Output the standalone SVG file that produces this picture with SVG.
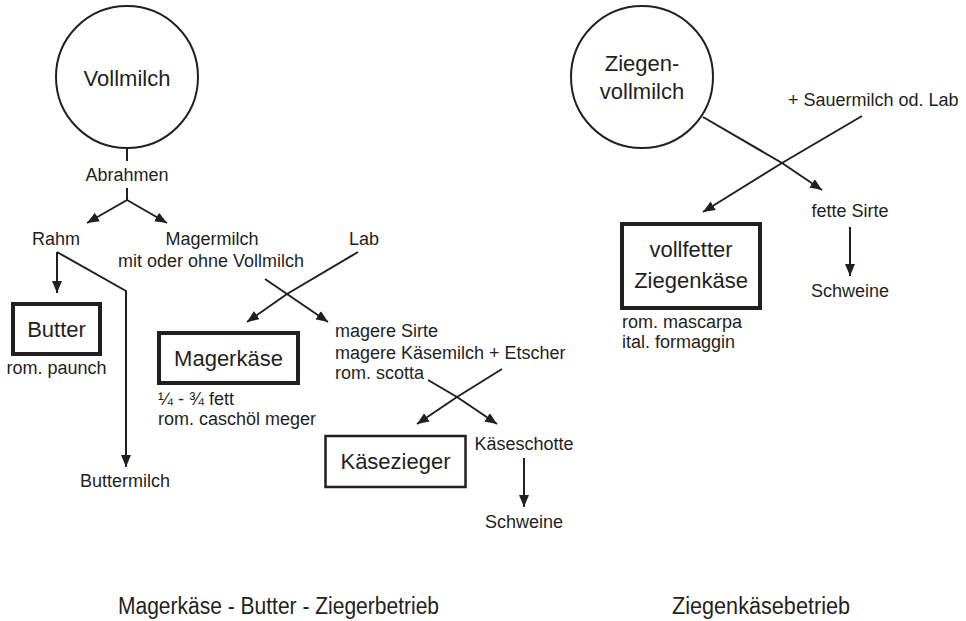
<svg xmlns="http://www.w3.org/2000/svg" width="966" height="621" viewBox="0 0 966 621">
  <style>
    text { font-family: "Liberation Sans", Arial, sans-serif; fill: #231f20; }
    .s { font-size: 18px; }
    .m { font-size: 22px; }
    .t { font-size: 23px; }
    .c { text-anchor: middle; }
    .ln { fill: none; stroke: #231f20; stroke-width: 2; }
    .thick { fill: #fff; stroke: #231f20; stroke-width: 4; }
    .thin { fill: #fff; stroke: #231f20; stroke-width: 2.5; }
    .circ { fill: #fff; stroke: #231f20; stroke-width: 2; }
  </style>
  <defs>
    <marker id="ah" markerUnits="userSpaceOnUse" markerWidth="14" markerHeight="12" refX="12" refY="5" orient="auto">
      <path d="M0,0 L12,5 L0,10 Z" fill="#231f20"/>
    </marker>
  </defs>
  <rect width="966" height="621" fill="#fff"/>

  <g id="connectors">
    <line class="ln" x1="127" y1="148" x2="127" y2="161"/>
    <line class="ln" x1="127" y1="188" x2="127" y2="200"/>
    <line class="ln" x1="127" y1="200" x2="87" y2="223" marker-end="url(#ah)"/>
    <line class="ln" x1="127" y1="200" x2="167" y2="223" marker-end="url(#ah)"/>
    <line class="ln" x1="57" y1="252" x2="57" y2="293" marker-end="url(#ah)"/>
    <polyline class="ln" points="57,252 126,291 126,467" marker-end="url(#ah)"/>
    <line class="ln" x1="358" y1="252" x2="287" y2="294"/>
    <line class="ln" x1="265" y1="279" x2="287" y2="294"/>
    <line class="ln" x1="287" y1="294" x2="247" y2="322" marker-end="url(#ah)"/>
    <line class="ln" x1="287" y1="294" x2="328" y2="322" marker-end="url(#ah)"/>
    <line class="ln" x1="428" y1="380" x2="457" y2="397"/>
    <line class="ln" x1="502" y1="369" x2="457" y2="397"/>
    <line class="ln" x1="457" y1="397" x2="417" y2="424" marker-end="url(#ah)"/>
    <line class="ln" x1="457" y1="397" x2="497" y2="424" marker-end="url(#ah)"/>
    <line class="ln" x1="524" y1="458" x2="524" y2="507" marker-end="url(#ah)"/>
    <polyline class="ln" points="703,117 782,163 822,190" marker-end="url(#ah)"/>
    <polyline class="ln" points="862,116 782,163 703,212" marker-end="url(#ah)"/>
    <line class="ln" x1="850" y1="227" x2="850" y2="276" marker-end="url(#ah)"/>
  </g>

  <g id="vollmilch">
    <circle class="circ" cx="127" cy="77" r="71"/>
    <text class="m c" x="127" y="86">Vollmilch</text>
  </g>
  <g id="abrahmen"><text class="s c" x="127" y="181">Abrahmen</text></g>
  <g id="rahm"><text class="s c" x="56" y="245">Rahm</text></g>
  <g id="magermilch">
    <text class="s c" x="212" y="245">Magermilch</text>
    <text class="s c" x="211" y="267">mit oder ohne Vollmilch</text>
  </g>
  <g id="lab"><text class="s c" x="364" y="245">Lab</text></g>
  <g id="butter">
    <rect class="thick" x="13" y="304" width="87" height="50"/>
    <text class="m c" x="56.5" y="337">Butter</text>
    <text class="s c" x="56.5" y="374">rom. paunch</text>
  </g>
  <g id="buttermilch"><text class="s c" x="125" y="487">Buttermilch</text></g>
  <g id="magerkaese">
    <rect class="thick" x="159" y="333" width="139" height="50"/>
    <text class="m c" x="228.5" y="366">Magerkäse</text>
    <text class="s" x="158" y="405">¼ - ¾ fett</text>
    <text class="s" x="158" y="425">rom. caschöl meger</text>
  </g>
  <g id="magere-sirte">
    <text class="s" x="335" y="337">magere Sirte</text>
    <text class="s" x="335" y="359">magere Käsemilch + Etscher</text>
    <text class="s" x="335" y="379">rom. scotta</text>
  </g>
  <g id="kaesezieger">
    <rect class="thin" x="325.5" y="436" width="140" height="51"/>
    <text class="m c" x="395.5" y="469">Käsezieger</text>
  </g>
  <g id="kaeseschotte"><text class="s c" x="524" y="450">Käseschotte</text></g>
  <g id="schweine1"><text class="s c" x="524" y="528">Schweine</text></g>

  <g id="ziegenvollmilch">
    <circle class="circ" cx="642" cy="77" r="71"/>
    <text class="m c" x="642" y="71">Ziegen-</text>
    <text class="m c" x="642" y="99">vollmilch</text>
  </g>
  <g id="sauermilch"><text class="s" x="788" y="106">+ Sauermilch od. Lab</text></g>
  <g id="ziegenkaese">
    <rect class="thick" x="622" y="224" width="138" height="84"/>
    <text class="m c" x="691" y="257">vollfetter</text>
    <text class="m c" x="691" y="288">Ziegenkäse</text>
    <text class="s" x="622" y="328">rom. mascarpa</text>
    <text class="s" x="622" y="348">ital. formaggin</text>
  </g>
  <g id="fette-sirte"><text class="s c" x="850" y="217">fette Sirte</text></g>
  <g id="schweine2"><text class="s c" x="850" y="297">Schweine</text></g>

  <g id="titles">
    <text class="t" x="118" y="614" textLength="321" lengthAdjust="spacingAndGlyphs">Magerkäse - Butter - Ziegerbetrieb</text>
    <text class="t" x="672" y="614" textLength="178" lengthAdjust="spacingAndGlyphs">Ziegenkäsebetrieb</text>
  </g>
</svg>
